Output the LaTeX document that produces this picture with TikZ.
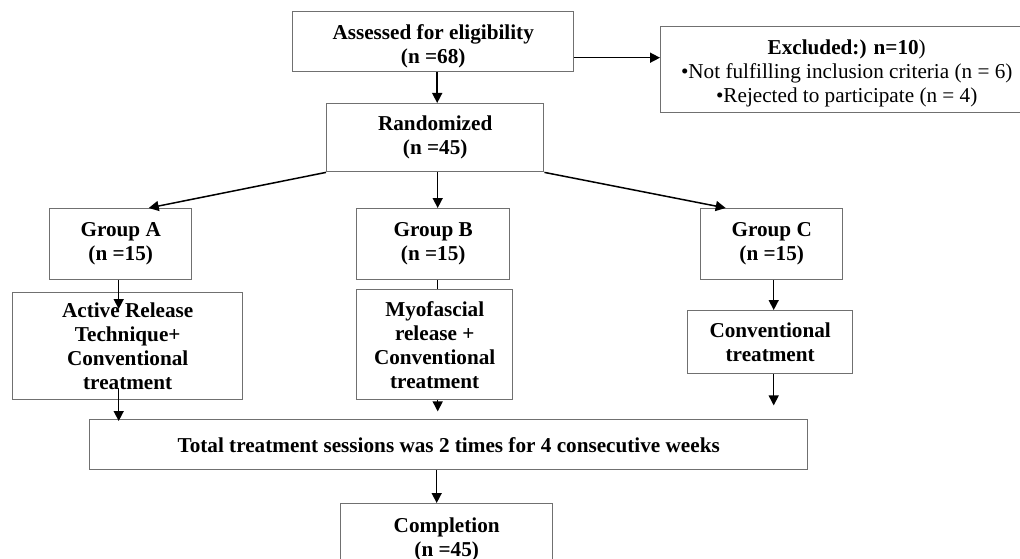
\documentclass[tikz,border=0pt]{standalone}
\usepackage{fontspec}
\setmainfont{Liberation Serif}
\usetikzlibrary{arrows.meta}
\definecolor{boxgray}{HTML}{707070}
\tikzset{
  box/.style={draw=boxgray, line width=1.4pt, anchor=north west, align=center,
    inner sep=0pt, font=\fontsize{21.2}{24}\selectfont\bfseries},
  arr/.style={draw=black, line width=1.5pt, -{Triangle[length=10pt,width=10pt]}},
  plainline/.style={draw=black, line width=1.5pt}
}
\begin{document}
\begin{tikzpicture}[x=1pt,y=-1pt]
\clip (0,0) rectangle (1020,559);
\fill[white] (0,0) rectangle (1020,559);
\node[box, minimum width=281pt, minimum height=60pt] (ass) at (292,11) {\rule{0pt}{25pt}Assessed for eligibility\\(n =68)};
\node[box, minimum width=372pt, minimum height=86pt] (exc) at (660,26)
  {\rule{0pt}{23pt}Excluded:) n=10\mdseries)\\\mdseries\textbullet Not fulfilling inclusion criteria (n = 6)\\\mdseries\textbullet Rejected to participate (n = 4)};
\node[box, minimum width=217pt, minimum height=68pt] (ran) at (326,103) {Randomized\\(n =45)};
\node[box, minimum width=142pt, minimum height=71pt] (ga) at (49,208) {Group A\\(n =15)};
\node[box, minimum width=153pt, minimum height=71pt] (gb) at (356,208) {Group B\\(n =15)};
\node[box, minimum width=142pt, minimum height=71pt] (gc) at (700,208) {Group C\\(n =15)};
\node[box, minimum width=230pt, minimum height=107pt] (art) at (12,292) {Active Release\\Technique+\\Conventional\\treatment};
\node[box, minimum width=156pt, minimum height=110pt] (mr) at (356,289) {Myofascial\\release +\\Conventional\\treatment};
\node[box, minimum width=165pt, minimum height=63pt] (conv) at (687,310) {Conventional\\treatment};
\node[box, minimum width=718pt, minimum height=50pt] (tot) at (89,419) {Total treatment sessions was 2 times for 4 consecutive weeks};
\node[box, minimum width=212pt, minimum height=71pt] (comp) at (340,503) {Completion\\(n =45)};
\coordinate (gaa) at ([xshift=-2pt]ga.south |- art.north);
% connectors
\draw[arr] ([yshift=-16pt]ass.east) -- ([yshift=-16pt]ass.east -| exc.west);
\draw[arr] ([xshift=4pt]ass.south) -- ([xshift=4pt]ass.south |- ran.north);
\draw[arr] (ran.south west) -- ([xshift=28pt]ga.north);
\draw[arr] ([xshift=2.5pt]ran.south) -- ([xshift=2.5pt]ran.south |- gb.north);
\draw[arr] (ran.south east) -- ([xshift=-46pt]gc.north);
\draw[arr] ([xshift=-2pt]ga.south) -- ([yshift=-17pt]gaa);
\draw[plainline] ([xshift=4.5pt]gb.south) -- ([xshift=4.5pt]gb.south |- mr.north);
\draw[arr] ([xshift=2pt]gc.south) -- ([xshift=2pt]gc.south |- conv.north);
\draw[arr] ([xshift=-9pt,yshift=12pt]art.south) -- ([xshift=-9pt,yshift=-2pt]art.south |- tot.north);
\draw[arr] ([xshift=3pt]mr.south) -- ([xshift=3pt,yshift=-11pt]mr.south);
\draw[arr] ([xshift=3.5pt]conv.south) -- ([xshift=3.5pt,yshift=-31pt]conv.south);
\draw[arr] ([xshift=-12pt]tot.south) -- ([xshift=-12pt]tot.south |- comp.north);
\end{tikzpicture}
\end{document}
